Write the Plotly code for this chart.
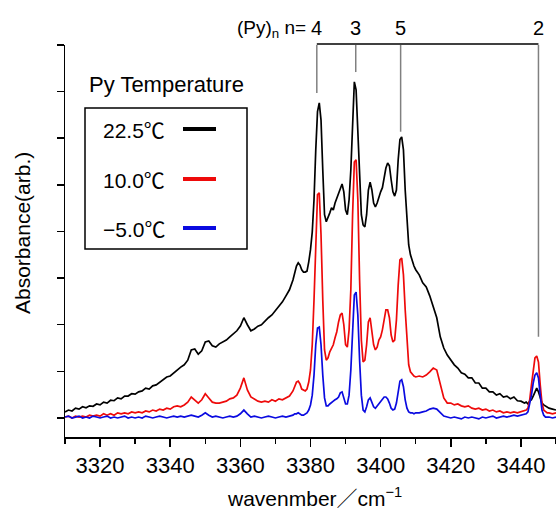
import plotly.graph_objects as go

# ---------------- data ----------------
wavenumber = [
    3310, 3311, 3312, 3313, 3314, 3315, 3316, 3317, 3318, 3319,
    3320, 3321, 3322, 3323, 3324, 3325, 3326, 3327, 3328, 3329,
    3330, 3331, 3332, 3333, 3334, 3335, 3336, 3337, 3338, 3339,
    3340, 3341, 3342, 3343, 3344, 3345, 3346, 3347, 3348, 3349,
    3350, 3351, 3352, 3353, 3354, 3355, 3356, 3357, 3358, 3359,
    3360, 3361, 3362, 3363, 3364, 3365, 3366, 3367, 3368, 3369,
    3370, 3371, 3372, 3373, 3374, 3375,
    3375.5, 3376, 3376.5, 3377, 3377.5, 3378, 3378.5, 3379, 3379.5, 3380,
    3380.5, 3381, 3381.5, 3382, 3382.5, 3383, 3383.5, 3384, 3384.5, 3385,
    3385.5, 3386, 3386.5, 3387, 3387.5, 3388, 3388.5, 3389, 3389.5, 3390,
    3390.5, 3391, 3391.5, 3392, 3392.5, 3393, 3393.5, 3394, 3394.5, 3395,
    3395.5, 3396, 3396.5, 3397, 3397.5, 3398, 3398.5, 3399, 3399.5, 3400,
    3400.5, 3401, 3401.5, 3402, 3402.5, 3403, 3403.5, 3404, 3404.5, 3405,
    3405.5, 3406, 3406.5, 3407, 3407.5, 3408, 3408.5, 3409, 3409.5, 3410,
    3411, 3412, 3413, 3414, 3415, 3416, 3417, 3418, 3419, 3420,
    3421, 3422, 3423, 3424, 3425, 3426, 3427, 3428, 3429, 3430,
    3431, 3432, 3433, 3434, 3435, 3436, 3437, 3438, 3439, 3440,
    3441,
    3441.5, 3442, 3442.5, 3443, 3443.5, 3444, 3444.5, 3445, 3445.5, 3446,
    3446.5, 3447, 3447.5,
    3448, 3449, 3450,
]

abs_22_5C = [
    0.013, 0.017, 0.015, 0.021, 0.019, 0.024, 0.022, 0.026, 0.025, 0.030,
    0.028, 0.034, 0.032, 0.038, 0.037, 0.043, 0.041, 0.047, 0.047, 0.052,
    0.051, 0.056, 0.058, 0.064, 0.062, 0.069, 0.071, 0.077, 0.082, 0.088,
    0.090, 0.097, 0.103, 0.109, 0.114, 0.124, 0.146, 0.148, 0.137, 0.144,
    0.163, 0.165, 0.155, 0.152, 0.159, 0.163, 0.167, 0.174, 0.180, 0.187,
    0.197, 0.215, 0.200, 0.187, 0.191, 0.197, 0.200, 0.208, 0.215, 0.221,
    0.230, 0.238, 0.249, 0.262, 0.275, 0.296,
    0.309, 0.326, 0.333, 0.328, 0.318, 0.313, 0.313, 0.315, 0.335, 0.361,
    0.399, 0.468, 0.575, 0.657, 0.676, 0.639, 0.532, 0.436, 0.421, 0.429,
    0.440, 0.451, 0.446, 0.461, 0.472, 0.479, 0.494, 0.502, 0.485, 0.446,
    0.436, 0.468, 0.532, 0.639, 0.721, 0.704, 0.618, 0.500, 0.436, 0.414,
    0.410, 0.436, 0.489, 0.506, 0.489, 0.461, 0.453, 0.461, 0.476, 0.485,
    0.494, 0.515, 0.536, 0.547, 0.541, 0.511, 0.485, 0.476, 0.489, 0.554,
    0.597, 0.603, 0.575, 0.489, 0.414, 0.371, 0.350, 0.335, 0.326, 0.318,
    0.307, 0.290, 0.281, 0.262, 0.238, 0.215, 0.174, 0.150, 0.135, 0.124,
    0.114, 0.107, 0.097, 0.094, 0.086, 0.086, 0.075, 0.075, 0.064, 0.064,
    0.056, 0.056, 0.049, 0.052, 0.045, 0.047, 0.041, 0.045, 0.037, 0.036,
    0.032,
    0.034, 0.030, 0.036, 0.039, 0.047, 0.056, 0.064, 0.056, 0.043, 0.032,
    0.028, 0.026, 0.024,
    0.021, 0.019, 0.017,
]

abs_10_0C = [
    0.002, 0.004, 0.000, 0.004, 0.002, 0.004, 0.002, 0.006, 0.004, 0.006,
    0.004, 0.009, 0.006, 0.009, 0.006, 0.011, 0.009, 0.011, 0.009, 0.013,
    0.011, 0.013, 0.011, 0.015, 0.013, 0.017, 0.015, 0.019, 0.017, 0.021,
    0.019, 0.024, 0.026, 0.024, 0.028, 0.034, 0.045, 0.039, 0.032, 0.039,
    0.052, 0.043, 0.034, 0.032, 0.032, 0.034, 0.036, 0.041, 0.043, 0.049,
    0.064, 0.086, 0.060, 0.045, 0.041, 0.036, 0.034, 0.036, 0.034, 0.039,
    0.036, 0.041, 0.039, 0.043, 0.047, 0.058,
    0.069, 0.077, 0.079, 0.073, 0.062, 0.060, 0.058, 0.062, 0.077, 0.103,
    0.157, 0.253, 0.393, 0.479, 0.483, 0.393, 0.253, 0.146, 0.124, 0.129,
    0.142, 0.150, 0.157, 0.172, 0.185, 0.206, 0.221, 0.225, 0.200, 0.157,
    0.152, 0.189, 0.275, 0.436, 0.549, 0.554, 0.468, 0.296, 0.167, 0.120,
    0.124, 0.157, 0.206, 0.215, 0.189, 0.157, 0.146, 0.152, 0.167, 0.174,
    0.189, 0.215, 0.232, 0.232, 0.215, 0.178, 0.163, 0.167, 0.210, 0.285,
    0.339, 0.343, 0.307, 0.232, 0.157, 0.114, 0.099, 0.094, 0.090, 0.088,
    0.090, 0.088, 0.092, 0.099, 0.107, 0.103, 0.071, 0.043, 0.032, 0.032,
    0.028, 0.030, 0.026, 0.024, 0.026, 0.021, 0.019, 0.021, 0.017, 0.019,
    0.015, 0.017, 0.013, 0.015, 0.011, 0.013, 0.011, 0.013, 0.011, 0.013,
    0.015,
    0.017, 0.021, 0.039, 0.071, 0.107, 0.129, 0.133, 0.120, 0.071, 0.032,
    0.017, 0.013, 0.011,
    0.011, 0.009, 0.011,
]

abs_m5_0C = [
    0.002, 0.004, 0.000, 0.002, 0.004, 0.000, 0.002, 0.000, 0.004, 0.002,
    0.000, 0.002, 0.004, 0.000, 0.002, 0.000, 0.002, 0.004, 0.000, 0.002,
    0.000, 0.002, 0.000, 0.004, 0.002, 0.000, 0.002, 0.004, 0.002, 0.000,
    0.002, 0.004, 0.002, 0.004, 0.002, 0.004, 0.006, 0.004, 0.002, 0.006,
    0.011, 0.006, 0.002, 0.004, 0.002, 0.000, 0.002, 0.004, 0.002, 0.004,
    0.009, 0.017, 0.009, 0.002, 0.004, 0.002, 0.000, 0.002, 0.004, 0.002,
    0.000, 0.002, 0.004, 0.002, 0.004, 0.006,
    0.009, 0.009, 0.011, 0.009, 0.006, 0.006, 0.009, 0.011, 0.017, 0.028,
    0.049, 0.092, 0.157, 0.193, 0.195, 0.157, 0.092, 0.043, 0.026, 0.026,
    0.030, 0.034, 0.036, 0.039, 0.041, 0.045, 0.054, 0.056, 0.045, 0.030,
    0.030, 0.049, 0.103, 0.200, 0.264, 0.270, 0.221, 0.124, 0.049, 0.017,
    0.013, 0.024, 0.039, 0.043, 0.034, 0.024, 0.021, 0.026, 0.030, 0.034,
    0.041, 0.045, 0.045, 0.041, 0.032, 0.021, 0.017, 0.019, 0.032, 0.060,
    0.079, 0.082, 0.067, 0.039, 0.021, 0.013, 0.011, 0.011, 0.009, 0.011,
    0.011, 0.013, 0.015, 0.019, 0.021, 0.019, 0.011, 0.004, 0.002, 0.000,
    0.002, 0.000, -0.002, 0.002, 0.000, 0.002, 0.000, -0.002, 0.002, 0.000,
    0.002, 0.004, 0.000, 0.002, 0.004, 0.002, 0.004, 0.006, 0.004, 0.006,
    0.009,
    0.009, 0.013, 0.028, 0.049, 0.075, 0.092, 0.097, 0.086, 0.049, 0.017,
    0.006, 0.002, 0.002,
    0.002, 0.000, 0.002,
]

series_names = ["22.5℃", "10.0℃", "−5.0℃"]
series_values = [abs_22_5C, abs_10_0C, abs_m5_0C]
series_colors = ["#000000", "#ee0a0a", "#0a0ae0"]

# cluster assignment (Py)n: peak positions, labels, bottom of marker lines
cluster_labels = ["4", "3", "5", "2"]
cluster_peaks = [3381.8, 3392.9, 3405.7, 3445.0]
cluster_line_bottom = [0.697, 0.742, 0.614, 0.174]

x_ticks = [3320, 3340, 3360, 3380, 3400, 3420, 3440]

for v in series_values:
    assert len(v) == len(wavenumber), (len(v), len(wavenumber))

# ---------------- figure ----------------
W, H = 556, 514
ML, MR, MT, MB = 65, 0, 45, 77
PW, PH = W - ML - MR, H - MT - MB


def px(xp):
    return (xp - ML) / PW


def py(yp):
    return (H - MB - yp) / PH


TXT = "Liberation Sans, Noto Sans CJK JP, sans-serif"
NUM = "Liberation Sans Narrow, Liberation Sans, Noto Sans CJK JP, sans-serif"

fig = go.Figure()
for name, vals, col in zip(series_names, series_values, series_colors):
    fig.add_trace(go.Scatter(x=wavenumber, y=vals, mode="lines", name=name,
                             line=dict(color=col, width=1.7), showlegend=False))

shapes = []
annos = []

# bracket for cluster assignment
shapes.append(dict(type="line", xref="x", yref="paper",
                   x0=cluster_peaks[0], x1=cluster_peaks[-1], y0=py(44), y1=py(44),
                   line=dict(color="#000000", width=1.5)))
for xp, yb, lab in zip(cluster_peaks, cluster_line_bottom, cluster_labels):
    shapes.append(dict(type="line", xref="x", yref="y", x0=xp, x1=xp,
                       y0=yb, y1=0.82, line=dict(color="#808080", width=1.5)))
    annos.append(dict(xref="x", yref="paper", x=xp, y=py(28), text=lab,
                      showarrow=False, xanchor="center", yanchor="middle",
                      font=dict(family=NUM, size=20, color="black")))
annos.append(dict(xref="x", yref="paper", x=3379.3, y=py(29),
                  text="(Py)<sub>n</sub> n=", showarrow=False,
                  xanchor="right", yanchor="middle",
                  font=dict(family=TXT, size=19, color="black")))

# legend (manual: title outside box, text left, line right)
annos.append(dict(xref="paper", yref="paper", x=px(87), y=py(84),
                  text="Py Temperature", showarrow=False,
                  xanchor="left", yanchor="middle",
                  font=dict(family=TXT, size=22, color="black")))
shapes.append(dict(type="rect", xref="paper", yref="paper",
                   x0=px(85), x1=px(247), y0=py(108), y1=py(249),
                   line=dict(color="black", width=1.5), fillcolor="white"))
for name, col, yy in zip(series_names, series_colors, [129, 179, 228]):
    shapes.append(dict(type="line", xref="paper", yref="paper",
                       x0=px(183), x1=px(216), y0=py(yy), y1=py(yy),
                       line=dict(color=col, width=4)))
    annos.append(dict(xref="paper", yref="paper", x=px(101), y=py(yy + 1),
                      text=name, showarrow=False, xanchor="left", yanchor="middle",
                      font=dict(family=NUM, size=21, color="black")))

# axis titles
annos.append(dict(xref="paper", yref="paper", x=px(314), y=py(497),
                  text="wavenmber／cm<sup>−1</sup>", showarrow=False,
                  xanchor="center", yanchor="middle",
                  font=dict(family=TXT, size=21, color="black")))
annos.append(dict(xref="paper", yref="paper", x=px(22), y=py(233),
                  text="Absorbance(arb.)", showarrow=False, textangle=-90,
                  xanchor="center", yanchor="middle",
                  font=dict(family=TXT, size=21, color="black")))

fig.update_layout(
    width=W, height=H,
    margin=dict(l=ML, r=MR, t=MT, b=MB, pad=0),
    paper_bgcolor="white", plot_bgcolor="white",
    showlegend=False,
    shapes=shapes, annotations=annos,
    xaxis=dict(range=[3310, 3450], tickvals=x_ticks, ticks="outside",
               ticklen=8, tickwidth=1.5, tickcolor="black",
               showline=True, linecolor="black", linewidth=1.5,
               showgrid=False, zeroline=False,
               tickfont=dict(family=NUM, size=22, color="black"),
               minor=dict(dtick=10, tick0=3310, ticks="outside", ticklen=5,
                          tickwidth=1.5, tickcolor="black", showgrid=False)),
    yaxis=dict(range=[-0.0408, 0.8], tick0=0, dtick=0.1, ticks="outside",
               ticklen=7, tickwidth=1.5, tickcolor="black",
               showticklabels=False,
               showline=True, linecolor="black", linewidth=1.5,
               showgrid=False, zeroline=False),
)

fig.write_html("out.html",
               config={"displayModeBar": False, "staticPlot": True},
               post_script="document.body.style.margin='0';"
                           "document.body.style.padding='0';"
                           "document.body.style.overflow='hidden';")
